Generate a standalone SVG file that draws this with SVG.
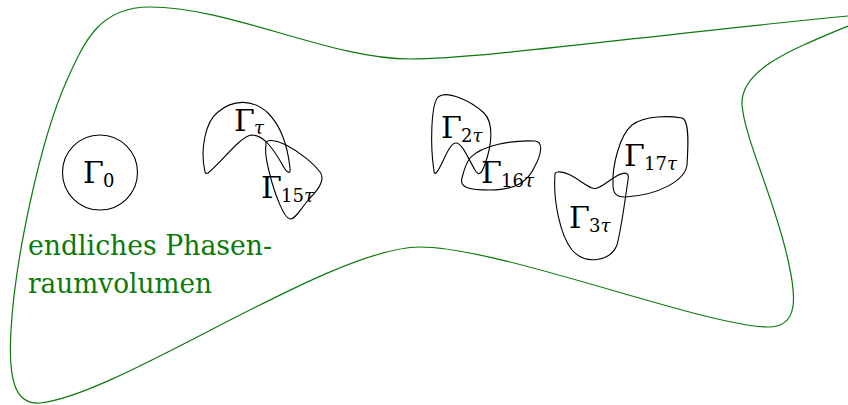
<svg xmlns="http://www.w3.org/2000/svg" width="848" height="405" viewBox="0 0 848 405">
<style>
.bound{fill:none;stroke:#0a7a0a;stroke-width:1.2}
.blob{fill:none;stroke:#000;stroke-width:1.1}
text{font-family:'DejaVu Serif','Liberation Serif',serif}
.G{font-size:30px;fill:#000}
.s{font-size:18px;fill:#000}
.t{font-style:italic}
.green{font-size:28px;fill:#0a7a0a}
</style>
<g id="region">
<path class="bound" d="M 848,16 C 650,35 480,59 410,59 C 330,59 230,7 150,7 C 100,7 85,40 67,80 C 40,140 15,260 11,330 C 8,380 15,405 40,403 C 120,395 330,247 420,247 C 500,247 700,325 767,327 C 800,328 796,295 788,260 C 775,200 745,140 742,105 C 740,70 790,50 848,26"/>
<text class="green" x="28" y="255" textLength="244" lengthAdjust="spacingAndGlyphs">endliches Phasen-</text>
<text class="green" x="28" y="293" textLength="184" lengthAdjust="spacingAndGlyphs">raumvolumen</text>
</g>
<g id="g0">
<circle class="blob" cx="100" cy="172.5" r="37.5"/>
<text class="G" x="83" y="183">Γ</text>
<text class="s" x="103" y="187">0</text>
</g>
<g id="g1">
<path class="blob" d="M 205,172 C 200,150 205,122 218,112 C 232,100 252,98 268,113 C 283,128 288,150 290,168 C 291,176 286,172 282,164 C 274,150 264,135 252,135 C 240,136 222,162 208,173 C 206,174 205,173 205,172 Z"/>
<text class="G" x="234" y="131">Γ</text>
<text class="s t" x="254" y="134">τ</text>
</g>
<g id="g15">
<path class="blob" d="M 266,145 C 264,138 276,140 286,145 C 300,152 314,164 320,172 C 326,180 318,190 310,198 C 301,208 295,220 290,219 C 284,218 275,195 270,175 C 266,160 265,150 266,145 Z"/>
<text class="G" x="261" y="198">Γ</text>
<text class="s" x="281" y="202">15<tspan class="t">τ</tspan></text>
</g>
<g id="g2">
<path class="blob" d="M 434,171 C 430,145 431,105 438,97 C 446,90 470,100 484,113 C 494,123 492,145 485,164 C 482,173 479,177 475,170 C 468,158 462,143 456,143 C 448,143 442,168 436,173 C 435,174 434,173 434,171 Z"/>
<text class="G" x="441" y="138">Γ</text>
<text class="s" x="461" y="142">2<tspan class="t">τ</tspan></text>
</g>
<g id="g16">
<path class="blob" d="M 470,158 C 482,145 512,140 535,141 C 544,142 541,155 535,166 C 528,182 515,190 490,190 C 470,190 459,188 462,178 C 464,170 466,163 470,158 Z"/>
<text class="G" x="481" y="183">Γ</text>
<text class="s" x="501" y="187">16<tspan class="t">τ</tspan></text>
</g>
<g id="g3">
<path class="blob" d="M 555,174 C 553,200 560,235 572,250 C 585,265 610,262 617,245 C 622,225 625,200 628,180 C 630,170 622,172 612,179 C 603,185 597,190 592,188 C 585,186 568,170 558,172 C 556,172 555,173 555,174 Z"/>
<text class="G" x="569" y="228">Γ</text>
<text class="s" x="589" y="232">3<tspan class="t">τ</tspan></text>
</g>
<g id="g17">
<path class="blob" d="M 613,185 C 612,165 620,135 632,125 C 645,115 670,116 682,118 C 690,120 688,150 687,165 C 685,180 660,195 625,197 C 615,197 613,192 613,185 Z"/>
<text class="G" x="624" y="166">Γ</text>
<text class="s" x="644" y="170">17<tspan class="t">τ</tspan></text>
</g>
</svg>
